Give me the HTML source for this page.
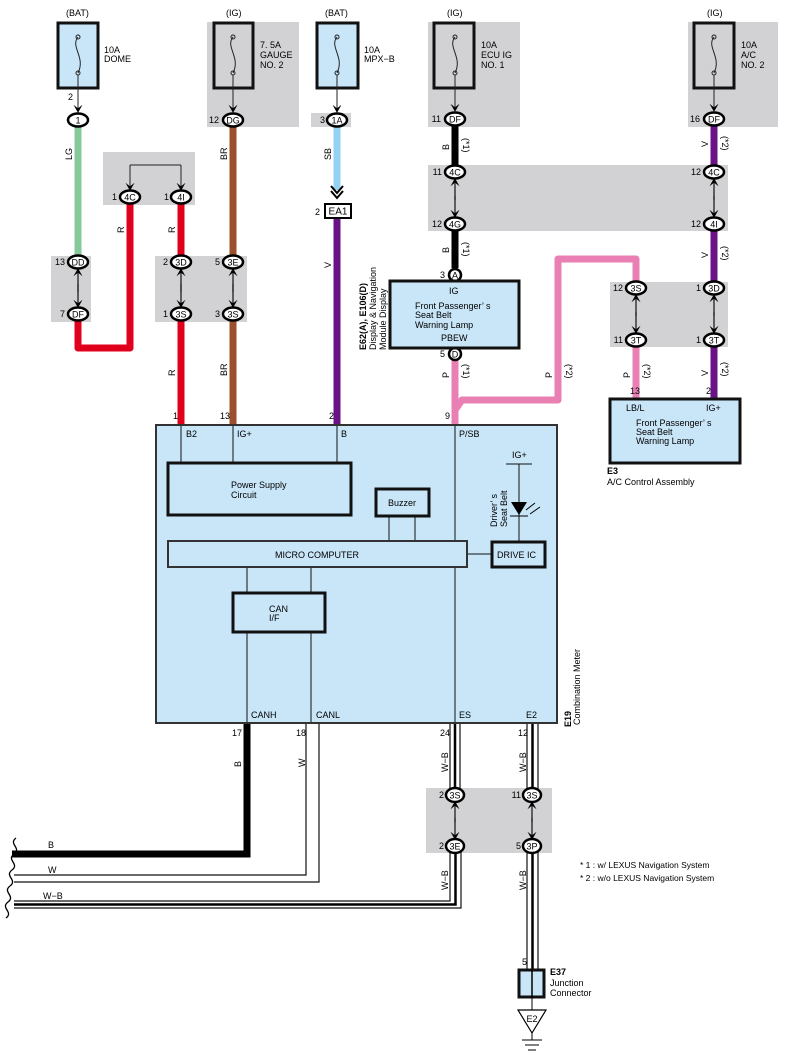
<!DOCTYPE html>
<html><head><meta charset="utf-8"><style>
html,body{margin:0;padding:0;background:#fff;}
svg{display:block;font-family:"Liberation Sans",sans-serif;}
</style></head><body>
<svg width="788" height="1062" viewBox="0 0 788 1062" xmlns="http://www.w3.org/2000/svg">
<defs>
<marker id="ad" viewBox="0 0 10 10" refX="9" refY="5" markerWidth="9" markerHeight="9" markerUnits="userSpaceOnUse" orient="auto"><path d="M1,0 L10,5 L1,10 L5,5 Z" fill="#000"/></marker>
</defs>
<g font-size="9" fill="#000">
<g fill="#d2d2d4">
<rect x="207" y="22" width="92" height="105"/>
<rect x="311" y="113" width="40" height="14"/>
<rect x="428" y="22" width="92" height="105"/>
<rect x="688" y="22" width="90" height="105"/>
<rect x="103" y="152" width="92" height="53"/>
<rect x="51" y="256" width="40" height="66"/>
<rect x="155" y="256" width="92" height="66"/>
<rect x="428" y="165" width="300" height="66"/>
<rect x="610" y="282" width="118" height="65"/>
<rect x="426" y="788" width="126" height="65"/>
</g>
<g fill="#c9e6f8" stroke="#111" stroke-width="3">
<rect x="58" y="23" width="40" height="65"/>
<rect x="317" y="23" width="41" height="65"/>
</g>
<g fill="none" stroke="#111" stroke-width="3">
<rect x="214" y="23" width="39" height="65"/>
<rect x="434" y="23" width="40" height="65"/>
<rect x="694" y="23" width="40" height="65"/>
</g>
<g fill="none" stroke="#222" stroke-width="1">
<path d="M78,37 c-8,10 8,20 0,36"/><circle cx="78" cy="37" r="2"/><circle cx="78" cy="73" r="2"/>
<path d="M233,37 c-8,10 8,20 0,36"/><circle cx="233" cy="37" r="2"/><circle cx="233" cy="73" r="2"/>
<path d="M337,37 c-8,10 8,20 0,36"/><circle cx="337" cy="37" r="2"/><circle cx="337" cy="73" r="2"/>
<path d="M455,37 c-8,10 8,20 0,36"/><circle cx="455" cy="37" r="2"/><circle cx="455" cy="73" r="2"/>
<path d="M714,37 c-8,10 8,20 0,36"/><circle cx="714" cy="37" r="2"/><circle cx="714" cy="73" r="2"/>
<path d="M78,75 V112" marker-end="url(#ad)"/>
<path d="M233,75 V112" marker-end="url(#ad)"/>
<path d="M337,75 V112" marker-end="url(#ad)"/>
<path d="M455,75 V111" marker-end="url(#ad)"/>
<path d="M714,75 V111" marker-end="url(#ad)"/>
<path d="M130,165 H181" />
<path d="M130,165 V190" marker-end="url(#ad)"/>
<path d="M181,165 V190" marker-end="url(#ad)"/>
</g>
<text x="66" y="16">(BAT)</text><text x="104" y="53">10A</text><text x="104" y="62">DOME</text>
<text x="226" y="16">(IG)</text><text x="260" y="48">7. 5A</text><text x="260" y="58">GAUGE</text><text x="260" y="68">NO. 2</text>
<text x="325" y="16">(BAT)</text><text x="364" y="53">10A</text><text x="364" y="62">MPX−B</text>
<text x="447" y="16">(IG)</text><text x="481" y="48">10A</text><text x="481" y="58">ECU IG</text><text x="481" y="68">NO. 1</text>
<text x="707" y="16">(IG)</text><text x="741" y="48">10A</text><text x="741" y="58">A/C</text><text x="741" y="68">NO. 2</text>

<g fill="none" stroke-width="7">
<path d="M78,126 V256" stroke="#86c99a"/>
<path d="M78,320 V348 H130 V204" stroke="#e0001b" stroke-linejoin="round"/>
<path d="M181,204 V256 M181,320 V426" stroke="#e0001b"/>
<path d="M233,126 V256 M233,320 V426" stroke="#9b4f2c"/>
<path d="M337,126 V190" stroke="#93d2f3"/>
<path d="M337,218 V426" stroke="#6a1387"/>
<path d="M455,126 V166 M455,230 V268" stroke="#000"/>
<path d="M455,360 V426" stroke="#ea7fb3"/>
<path d="M455,410 L462,400 H558 V259 H636 V282" stroke="#ea7fb3" stroke-linejoin="round"/>
<path d="M636,346 V400" stroke="#ea7fb3"/>
<path d="M714,126 V166 M714,230 V282 M714,346 V400" stroke="#6a1387"/>
<path d="M247,722 V854 H12" stroke="#000"/>
</g>
<g fill="none" stroke="#111" stroke-width="1.2">
<path d="M306,723 V875 H14"/><path d="M319,723 V882 H14"/>
<path d="M450,723 V789 M460,723 V789 M450,852 V901 H14 M461,852 V908 H14"/>
<path d="M527,723 V789 M538,723 V789 M527,852 V972 M538,852 V972"/>
</g>
<g fill="none" stroke="#000" stroke-width="2.5"><path d="M455,723 V789 M455.5,852 V904.5 H14"/><path d="M532.5,723 V789 M532.5,852 V972"/></g>
<path d="M16,838 c-8,6 6,10 -2,16 c-8,6 6,10 -2,16 c-8,6 6,10 -2,16 c-8,6 6,10 -2,16 c-8,6 6,10 -2,16" fill="none" stroke="#000" stroke-width="1.3"/>

<g stroke="#111" stroke-width="1.2" fill="none">
<path d="M78,292 V269" marker-end="url(#ad)"/><path d="M78,284 V307" marker-end="url(#ad)"/>
<path d="M181,292 V269" marker-end="url(#ad)"/><path d="M181,284 V307" marker-end="url(#ad)"/>
<path d="M233,292 V269" marker-end="url(#ad)"/><path d="M233,284 V307" marker-end="url(#ad)"/>
<path d="M455,200 V179" marker-end="url(#ad)"/><path d="M455,196 V217" marker-end="url(#ad)"/>
<path d="M714,200 V179" marker-end="url(#ad)"/><path d="M714,196 V217" marker-end="url(#ad)"/>
<path d="M636,316 V295" marker-end="url(#ad)"/><path d="M636,312 V333" marker-end="url(#ad)"/>
<path d="M714,316 V295" marker-end="url(#ad)"/><path d="M714,312 V333" marker-end="url(#ad)"/>
<path d="M455,822 V802" marker-end="url(#ad)"/><path d="M455,818 V839" marker-end="url(#ad)"/>
<path d="M532,822 V802" marker-end="url(#ad)"/><path d="M532,818 V839" marker-end="url(#ad)"/>
</g>
<path d="M331,186 L337,193 L343,186 M331,191 L337,198 L343,191" fill="none" stroke="#000" stroke-width="2"/>
<rect x="325" y="204" width="26" height="14" fill="#fff" stroke="#000" stroke-width="2"/>
<text x="338" y="214.5" text-anchor="middle" font-size="10">EA1</text><text x="315" y="215">2</text>

<g fill="#fff" stroke="#000" stroke-width="2.5">
<ellipse cx="78" cy="120" rx="10" ry="6.5"/>
<ellipse cx="233" cy="120" rx="10" ry="6.5"/>
<ellipse cx="337" cy="120" rx="10" ry="6.5"/>
<ellipse cx="455" cy="119" rx="10" ry="6.5"/>
<ellipse cx="714" cy="119" rx="10" ry="6.5"/>
<ellipse cx="130" cy="197" rx="10" ry="6.5"/>
<ellipse cx="181" cy="197" rx="10" ry="6.5"/>
<ellipse cx="78" cy="262" rx="10" ry="6.5"/>
<ellipse cx="78" cy="314" rx="10" ry="6.5"/>
<ellipse cx="181" cy="262" rx="10" ry="6.5"/>
<ellipse cx="233" cy="262" rx="10" ry="6.5"/>
<ellipse cx="181" cy="314" rx="10" ry="6.5"/>
<ellipse cx="233" cy="314" rx="10" ry="6.5"/>
<ellipse cx="455" cy="172" rx="10" ry="6.5"/>
<ellipse cx="455" cy="224" rx="10" ry="6.5"/>
<ellipse cx="714" cy="172" rx="10" ry="6.5"/>
<ellipse cx="714" cy="224" rx="10" ry="6.5"/>
<ellipse cx="636" cy="288" rx="10" ry="6.5"/>
<ellipse cx="636" cy="340" rx="10" ry="6.5"/>
<ellipse cx="714" cy="288" rx="10" ry="6.5"/>
<ellipse cx="714" cy="340" rx="10" ry="6.5"/>
<ellipse cx="455" cy="795" rx="9" ry="7"/>
<ellipse cx="532" cy="795" rx="9" ry="7"/>
<ellipse cx="455" cy="846" rx="9" ry="7"/>
<ellipse cx="532" cy="846" rx="9" ry="7"/>
<circle cx="455" cy="275" r="6"/>
<circle cx="455" cy="354" r="6"/>
</g>
<g text-anchor="middle" font-size="9">
<text x="78" y="123.5">1</text><text x="233" y="123.5">DG</text><text x="337" y="123.5">1A</text>
<text x="455" y="122.5">DF</text><text x="714" y="122.5">DF</text>
<text x="130" y="200.5">4C</text><text x="181" y="200.5">4I</text>
<text x="78" y="265.5">DD</text><text x="78" y="317.5">DF</text>
<text x="181" y="265.5">3D</text><text x="233" y="265.5">3E</text>
<text x="181" y="317.5">3S</text><text x="233" y="317.5">3S</text>
<text x="455" y="175.5">4C</text><text x="455" y="227.5">4G</text>
<text x="714" y="175.5">4C</text><text x="714" y="227.5">4I</text>
<text x="636" y="291.5">3S</text><text x="636" y="343.5">3T</text>
<text x="714" y="291.5">3D</text><text x="714" y="343.5">3T</text>
<text x="455" y="798.5">3S</text><text x="532" y="798.5">3S</text>
<text x="455" y="849.5">3E</text><text x="532" y="849.5">3P</text>
<text x="455" y="278.5">A</text><text x="455" y="357.5">D</text>
</g>
<g font-size="9" text-anchor="end">
<text x="73" y="100">2</text><text x="219" y="123">12</text><text x="325" y="123">3</text>
<text x="441" y="122">11</text><text x="700" y="122">16</text>
<text x="117" y="200">1</text><text x="169" y="200">1</text>
<text x="65" y="265">13</text><text x="65" y="317">7</text>
<text x="168" y="265">2</text><text x="220" y="265">5</text>
<text x="168" y="317">1</text><text x="220" y="317">3</text>
<text x="442" y="175">11</text><text x="442" y="227">12</text>
<text x="701" y="175">12</text><text x="701" y="227">12</text>
<text x="623" y="291">12</text><text x="623" y="343">11</text>
<text x="701" y="291">1</text><text x="701" y="343">1</text>
<text x="445" y="278">3</text><text x="445" y="357">5</text>
<text x="444" y="798">2</text><text x="521" y="798">11</text>
<text x="444" y="849">2</text><text x="521" y="849">5</text>
<text x="178" y="419">1</text><text x="230" y="419">13</text><text x="334" y="419">2</text><text x="450" y="419">9</text>
<text x="640" y="394">13</text><text x="711" y="394">2</text>
<text x="242" y="736">17</text><text x="306" y="736">18</text><text x="450" y="736">24</text><text x="528" y="736">12</text>
<text x="527" y="965">5</text>
</g>
<g font-size="9">
<text transform="translate(72,160) rotate(-90)">LG</text>
<text transform="translate(124,233) rotate(-90)">R</text>
<text transform="translate(175,233) rotate(-90)">R</text>
<text transform="translate(175,376) rotate(-90)">R</text>
<text transform="translate(227,160) rotate(-90)">BR</text>
<text transform="translate(227,376) rotate(-90)">BR</text>
<text transform="translate(331,160) rotate(-90)">SB</text>
<text transform="translate(331,268) rotate(-90)">V</text>
<text transform="translate(449,150) rotate(-90)">B</text>
<text transform="translate(449,253) rotate(-90)">B</text>
<text transform="translate(449,378) rotate(-90)">P</text>
<text transform="translate(552,378) rotate(-90)">P</text>
<text transform="translate(630,378) rotate(-90)">P</text>
<text transform="translate(708,147) rotate(-90)">V</text>
<text transform="translate(708,258) rotate(-90)">V</text>
<text transform="translate(708,376) rotate(-90)">V</text>
<text transform="translate(241,767) rotate(-90)">B</text>
<text transform="translate(305,767) rotate(-90)">W</text>
<text transform="translate(448,772) rotate(-90)">W−B</text>
<text transform="translate(526,772) rotate(-90)">W−B</text>
<text transform="translate(448,890) rotate(-90)">W−B</text>
<text transform="translate(526,890) rotate(-90)">W−B</text>
<text transform="translate(463,138) rotate(90)">(*1)</text>
<text transform="translate(463,242) rotate(90)">(*1)</text>
<text transform="translate(463,364) rotate(90)">(*1)</text>
<text transform="translate(566,364) rotate(90)">(*2)</text>
<text transform="translate(644,364) rotate(90)">(*2)</text>
<text transform="translate(722,136) rotate(90)">(*2)</text>
<text transform="translate(722,246) rotate(90)">(*2)</text>
<text transform="translate(722,362) rotate(90)">(*2)</text>
<text x="48" y="848">B</text><text x="48" y="873">W</text><text x="43" y="899">W−B</text>
</g>
<rect x="390" y="281" width="129" height="67" fill="#c9e6f8" stroke="#111" stroke-width="3"/>
<text x="449" y="294">IG</text><text x="415" y="309">Front Passenger’ s</text><text x="415" y="318">Seat Belt</text><text x="415" y="328">Warning Lamp</text><text x="441" y="341">PBEW</text>
<g transform="translate(366,350) rotate(-90)" font-size="9"><text x="0" y="0" font-weight="bold">E62(A), E106(D)</text><text x="0" y="10">Display &amp; Navigation</text><text x="0" y="20">Module Display</text></g>
<rect x="610" y="399" width="130" height="64" fill="#c9e6f8" stroke="#111" stroke-width="3"/>
<text x="626" y="411">LB/L</text><text x="706" y="411">IG+</text>
<text x="636" y="426">Front Passenger’ s</text><text x="636" y="435">Seat Belt</text><text x="636" y="444">Warning Lamp</text>
<text x="607" y="474" font-weight="bold">E3</text><text x="607" y="485">A/C Control Assembly</text>
<rect x="156" y="425" width="401" height="298" fill="#c9e6f8" stroke="#333" stroke-width="2"/>
<g stroke="#111" stroke-width="1" fill="none">
<path d="M181,426 V463 M233,426 V463 M337,426 V463 M455,426 V722 M247,567 V593 M311,567 V593 M247,632 V722 M311,632 V722 M389,516 V541 M415,516 V541 M467,554 H492 M519,464 V541 M506,464 H532"/>
</g>
<g stroke="#111" stroke-width="3" fill="#c9e6f8">
<rect x="168" y="463" width="183" height="52"/>
<rect x="376" y="489" width="53" height="27"/>
<rect x="233" y="593" width="92" height="39"/>
<rect x="492" y="542" width="53" height="25"/>
</g>
<rect x="168" y="541" width="299" height="26" fill="#c9e6f8" stroke="#333" stroke-width="2"/>
<path d="M511,502 H527 L519,515 Z" fill="#000"/><path d="M510,516 H528" stroke="#000"/>
<path d="M526,510 L535,503 M530,514 L540,507" stroke="#000" stroke-width="1"/>
<g font-size="9">
<text x="186" y="437">B2</text><text x="237" y="437">IG+</text><text x="341" y="437">B</text><text x="459" y="437">P/SB</text>
<text x="512" y="458">IG+</text>
<text x="231" y="488">Power Supply</text><text x="231" y="498">Circuit</text>
<text x="388" y="506">Buzzer</text>
<text x="275" y="558">MICRO COMPUTER</text>
<text x="497" y="558">DRIVE IC</text>
<text x="269" y="612">CAN</text><text x="269" y="621">I/F</text>
<text x="251" y="718">CANH</text><text x="316" y="718">CANL</text><text x="459" y="718">ES</text><text x="526" y="718">E2</text>
<text transform="translate(497,527) rotate(-90)">Driver’ s</text><text transform="translate(507,527) rotate(-90)">Seat Belt</text>
<text transform="translate(571,727) rotate(-90)"><tspan font-weight="bold">E19</tspan></text>
<text transform="translate(580,725) rotate(-90)">Combination Meter</text>
</g>
<rect x="519" y="970" width="25" height="27" fill="#c9e6f8" stroke="#111" stroke-width="3"/>
<path d="M532,970 V997" stroke="#000" stroke-width="1.5"/>
<path d="M532,997 V1010" stroke="#000"/>
<path d="M518,1010 H546 L532,1033 Z" fill="#fff" stroke="#000" stroke-width="1.2"/>
<text x="532" y="1022" text-anchor="middle" font-size="9">E2</text>
<path d="M532,1033 V1040 M522,1040 H542 M525,1045 H539 M528,1050 H536" stroke="#000"/>
<text x="550" y="975" font-weight="bold">E37</text><text x="550" y="986">Junction</text><text x="550" y="996">Connector</text>
<text x="580" y="868" font-size="8.5">* 1 : w/ LEXUS Navigation System</text>
<text x="580" y="881" font-size="8.5">* 2 : w/o LEXUS Navigation System</text>
</g>
</svg>
</body></html>
